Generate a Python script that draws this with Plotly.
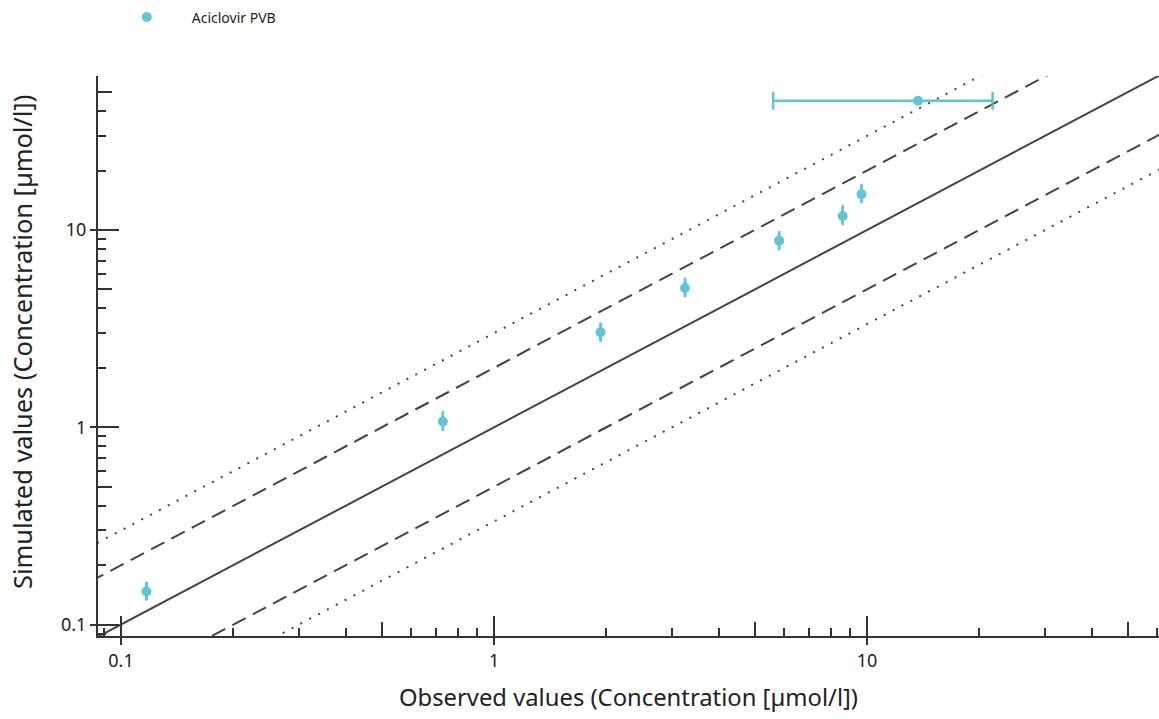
import plotly.graph_objects as go

# ---- data ----
observed = [0.117, 0.729, 1.93, 3.25, 5.81, 8.6, 9.66, 13.7]
simulated = [0.147, 1.07, 3.03, 5.08, 8.83, 11.78, 15.17, 45.2]
sim_err_plus = [0.018, 0.14, 0.37, 0.66, 1.05, 1.6, 2.0, 0.0]
sim_err_minus = [0.014, 0.11, 0.32, 0.51, 0.94, 1.1, 1.4, 0.0]
obs_err_plus = [0.0, 0.0, 0.0, 0.0, 0.0, 0.0, 0.0, 8.0]
obs_err_minus = [0.0, 0.0, 0.0, 0.0, 0.0, 0.0, 0.0, 8.1]
series_name = "Aciclovir PVB"

fold_factors = [1, 2, 0.5, 3, 1 / 3]
fold_styles = ["solid", "15px,8px", "15px,8px", "2px,8px", "2px,8px"]
line_x = [0.05, 100]

major_ticks = [0.1, 1, 10]
major_text = ["0.1", "1", "10"]
minor_ticks = [0.09, 0.2, 0.3, 0.4, 0.6, 0.7, 0.8, 0.9,
               2, 3, 4, 6, 7, 8, 9, 20, 30, 40, 60]
mid_ticks = [0.5, 5, 50]

x_title = "Observed values (Concentration [µmol/l])"
y_title = "Simulated values (Concentration [µmol/l])"

XR = [-1.0617, 1.7825]
YR = [-1.058, 1.7805]
AX = "#333333"
LINE = "#444444"
CYAN = "#4EC0D0"
FONT = "Noto Sans, Open Sans, sans-serif"

fig = go.Figure()

for f, d in zip(fold_factors, fold_styles):
    fig.add_trace(go.Scatter(
        x=line_x, y=[v * f for v in line_x], mode="lines",
        line=dict(color=LINE, width=2, dash=d),
        showlegend=False, hoverinfo="skip"))

fig.add_trace(go.Scatter(
    x=observed, y=simulated, mode="markers", name=series_name,
    marker=dict(color=CYAN, size=10),
    opacity=0.9,
    error_y=dict(type="data", symmetric=False, array=sim_err_plus,
                 arrayminus=sim_err_minus, color=CYAN, thickness=2.5, width=0),
    error_x=dict(type="data", symmetric=False, array=obs_err_plus,
                 arrayminus=obs_err_minus, color=CYAN, thickness=2.5, width=9),
))

# dummy traces so overlay axes get drawn
for i in (2, 3, 4):
    fig.add_trace(go.Scatter(x=[None], y=[None], xaxis=f"x{i}", yaxis=f"y{i}",
                             showlegend=False, hoverinfo="skip"))

common = dict(type="log", showgrid=False, zeroline=False)
fig.update_layout(
    width=1159, height=719,
    margin=dict(l=98, r=0, t=76, b=83),
    plot_bgcolor="white", paper_bgcolor="white",
    font=dict(family=FONT, color="#222222"),
    showlegend=True,
    legend=dict(orientation="h", xref="container", yref="container",
                x=0.0878, y=0.998, xanchor="left", yanchor="top",
                font=dict(size=14, family=FONT), itemwidth=80,
                bgcolor="rgba(0,0,0,0)"),
    xaxis=dict(**common, range=XR, showline=True, linecolor=AX, linewidth=2,
               ticks="outside", ticklen=7, tickwidth=2, tickcolor=AX,
               tickmode="array", tickvals=major_ticks, ticktext=major_text,
               tickfont=dict(size=18, family=FONT),
               title=dict(text=x_title, font=dict(size=23.8, family=FONT), standoff=19)),
    yaxis=dict(**common, range=YR, showline=True, linecolor=AX, linewidth=2,
               ticks="outside", ticklen=6, tickwidth=2, tickcolor=AX,
               tickmode="array", tickvals=major_ticks, ticktext=major_text,
               tickfont=dict(size=18, family=FONT)),
    xaxis2=dict(**common, range=XR, overlaying="x", anchor="y", side="bottom",
                ticks="inside", ticklen=20, tickwidth=2, tickcolor=AX,
                tickmode="array", tickvals=major_ticks, showticklabels=False),
    yaxis2=dict(**common, range=YR, overlaying="y", anchor="x", side="left",
                ticks="inside", ticklen=21, tickwidth=2, tickcolor=AX,
                tickmode="array", tickvals=major_ticks, showticklabels=False),
    xaxis3=dict(**common, range=XR, overlaying="x", anchor="y", side="bottom",
                ticks="inside", ticklen=8, tickwidth=2, tickcolor=AX,
                tickmode="array", tickvals=minor_ticks, showticklabels=False),
    yaxis3=dict(**common, range=YR, overlaying="y", anchor="x", side="left",
                ticks="inside", ticklen=8, tickwidth=2, tickcolor=AX,
                tickmode="array", tickvals=minor_ticks, showticklabels=False),
    xaxis4=dict(**common, range=XR, overlaying="x", anchor="y", side="bottom",
                ticks="inside", ticklen=14, tickwidth=2, tickcolor=AX,
                tickmode="array", tickvals=mid_ticks, showticklabels=False),
    yaxis4=dict(**common, range=YR, overlaying="y", anchor="x", side="left",
                ticks="inside", ticklen=14, tickwidth=2, tickcolor=AX,
                tickmode="array", tickvals=mid_ticks, showticklabels=False),
    annotations=[dict(text=y_title, textangle=-90, xref="paper", yref="paper",
                      x=-0.0716, y=0.525, xanchor="center", yanchor="middle",
                      showarrow=False, font=dict(size=25.4, family=FONT, color="#222222"))],
)

fig.write_html("out.html", config={"displayModeBar": False},
               post_script="document.body.style.margin='0';document.body.style.overflow='hidden';")
